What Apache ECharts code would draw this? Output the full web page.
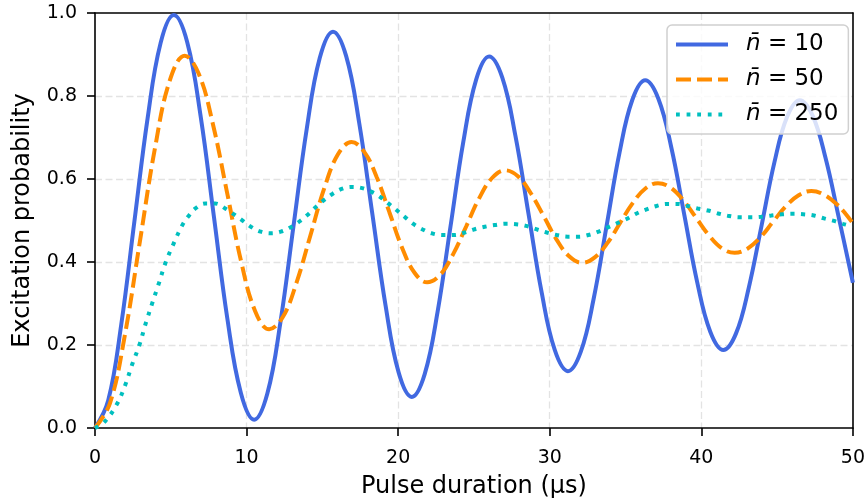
<!DOCTYPE html>
<html>
<head>
<meta charset="utf-8">
<script src="https://cdn.jsdelivr.net/npm/echarts@6/dist/echarts.min.js"></script>
<style>
  html, body { margin: 0; padding: 0; background: #ffffff; }
  #chart { width: 868px; height: 504px; }
</style>
</head>
<body>
<div id="chart"></div>
<script>
// Pulse duration (µs) and excitation probability for each mean phonon number
const blueT = [0, 0.87, 1.73, 2.6, 3.47, 4.33, 5.2, 6.08, 6.97, 7.85, 8.73, 9.62, 10.5, 11.37, 12.23, 13.1, 13.97, 14.83, 15.7, 16.57, 17.43, 18.3, 19.17, 20.03, 20.9, 21.75, 22.6, 23.45, 24.3, 25.15, 26.0, 26.87, 27.73, 28.6, 29.47, 30.33, 31.2, 32.05, 32.9, 33.75, 34.6, 35.45, 36.3, 37.16, 38.02, 38.88, 39.73, 40.59, 41.45, 42.29, 43.13, 43.98, 44.82, 45.66, 46.5, 47.35, 48.2, 49.05, 50];
const blueP = [0, 0.066, 0.249, 0.498, 0.746, 0.928, 0.995, 0.930, 0.751, 0.508, 0.264, 0.085, 0.02, 0.083, 0.254, 0.488, 0.721, 0.892, 0.955, 0.896, 0.735, 0.515, 0.295, 0.134, 0.075, 0.130, 0.280, 0.485, 0.690, 0.840, 0.895, 0.844, 0.705, 0.516, 0.326, 0.188, 0.137, 0.184, 0.312, 0.487, 0.663, 0.791, 0.838, 0.794, 0.676, 0.513, 0.351, 0.232, 0.188, 0.228, 0.338, 0.489, 0.640, 0.750, 0.790, 0.752, 0.650, 0.510, 0.350];

const orangeT = [0, 0.99, 1.97, 2.96, 3.95, 4.93, 5.92, 6.85, 7.78, 8.71, 9.63, 10.56, 11.49, 12.4, 13.3, 14.21, 15.11, 16.02, 16.92, 17.75, 18.58, 19.42, 20.25, 21.08, 21.91, 22.77, 23.63, 24.49, 25.35, 26.21, 27.07, 27.92, 28.76, 29.61, 30.45, 31.3, 32.14, 32.97, 33.81, 34.64, 35.47, 36.31, 37.14, 37.98, 38.83, 39.67, 40.51, 41.36, 42.2, 43.04, 43.89, 44.73, 45.57, 46.42, 47.26, 48.1, 48.94, 49.5, 50];
const orangeP = [0, 0.060, 0.224, 0.449, 0.673, 0.837, 0.897, 0.853, 0.732, 0.568, 0.403, 0.282, 0.238, 0.268, 0.351, 0.464, 0.576, 0.659, 0.689, 0.666, 0.605, 0.520, 0.435, 0.374, 0.351, 0.369, 0.419, 0.486, 0.554, 0.603, 0.621, 0.606, 0.565, 0.510, 0.454, 0.413, 0.398, 0.411, 0.446, 0.494, 0.542, 0.577, 0.590, 0.579, 0.548, 0.506, 0.464, 0.433, 0.422, 0.432, 0.459, 0.497, 0.534, 0.561, 0.571, 0.562, 0.539, 0.517, 0.493];

const tealT = [0, 0.63, 1.44, 2.0, 2.45, 2.93, 3.32, 3.76, 4.2, 4.64, 5.17, 5.78, 6.18, 6.62, 7.27, 7.93, 8.59, 9.12, 9.69, 10.28, 10.94, 11.6, 12.26, 12.92, 13.46, 14.01, 14.52, 15.06, 15.66, 16.27, 16.93, 17.63, 18.25, 18.84, 19.39, 19.93, 20.49, 21.03, 21.58, 22.24, 22.94, 23.67, 24.39, 25.05, 25.71, 26.37, 27.07, 27.77, 28.43, 29.1, 29.81, 30.47, 31.19, 31.9, 32.55, 33.21, 33.87, 34.53, 35.14, 35.73, 36.39, 37.05, 37.71, 38.37, 39.09, 39.75, 40.45, 41.11, 41.82, 42.54, 43.27, 43.97, 44.62, 45.33, 46.05, 46.71, 47.43, 48.09, 48.75, 49.34, 50];
const tealP = [0, 0.015, 0.057, 0.104, 0.153, 0.2, 0.249, 0.299, 0.347, 0.397, 0.443, 0.49, 0.511, 0.529, 0.541, 0.541, 0.529, 0.516, 0.501, 0.485, 0.473, 0.469, 0.473, 0.484, 0.497, 0.513, 0.531, 0.548, 0.564, 0.576, 0.581, 0.578, 0.569, 0.556, 0.540, 0.524, 0.507, 0.491, 0.479, 0.469, 0.465, 0.465, 0.471, 0.479, 0.485, 0.489, 0.492, 0.491, 0.487, 0.479, 0.471, 0.465, 0.461, 0.461, 0.465, 0.473, 0.484, 0.495, 0.505, 0.517, 0.527, 0.535, 0.540, 0.540, 0.535, 0.529, 0.524, 0.517, 0.511, 0.508, 0.508, 0.509, 0.512, 0.515, 0.516, 0.515, 0.512, 0.505, 0.499, 0.492, 0.486];

const seriesNames = ['n\u0304 = 10', 'n\u0304 = 50', 'n\u0304 = 250'];
const xTicks = [0, 10, 20, 30, 40, 50];
const yTicks = [0.0, 0.2, 0.4, 0.6, 0.8, 1.0];

const FONT = 'DejaVu Sans';
const LW = 4;

function pairs(xs, ys) {
  return xs.map((x, i) => [x, ys[i]]);
}

const chart = echarts.init(document.getElementById('chart'), null, { renderer: 'canvas' });

const gridLine = {
  show: true, showMinLine: false, showMaxLine: false,
  lineStyle: { color: '#e3e3e3', width: 1.3, type: [7, 3.5] }
};
const frameLine = { show: true, onZero: false, lineStyle: { color: '#000000', width: 1.6 } };

chart.setOption({
  animation: false,
  backgroundColor: '#ffffff',
  grid: { left: 95, top: 13, width: 760, height: 415, show: false },
  xAxis: [
    {
      type: 'value', position: 'bottom', min: xTicks[0], max: xTicks[xTicks.length - 1], interval: 10,
      name: 'Pulse duration (\u00b5s)', nameLocation: 'middle', nameGap: 47,
      nameTextStyle: { fontFamily: FONT, fontSize: 24, color: '#000000' },
      axisLine: frameLine,
      axisTick: { show: true, length: 8, lineStyle: { color: '#000000', width: 1.6 } },
      axisLabel: { fontFamily: FONT, fontSize: 19, color: '#000000', margin: 21,
        formatter: v => String(v) },
      splitLine: gridLine
    },
    {
      type: 'value', position: 'top', min: xTicks[0], max: xTicks[xTicks.length - 1],
      axisLine: frameLine, axisTick: { show: false }, axisLabel: { show: false },
      splitLine: { show: false }
    }
  ],
  yAxis: [
    {
      type: 'value', position: 'left', min: yTicks[0], max: yTicks[yTicks.length - 1], interval: 0.2,
      name: 'Excitation probability', nameLocation: 'middle', nameGap: 60, nameRotate: 90,
      nameTextStyle: { fontFamily: FONT, fontSize: 24, color: '#000000' },
      axisLine: frameLine,
      axisTick: { show: true, length: 8, lineStyle: { color: '#000000', width: 1.6 } },
      axisLabel: { fontFamily: FONT, fontSize: 19, color: '#000000', margin: 18,
        formatter: v => v.toFixed(1) },
      splitLine: gridLine
    },
    {
      type: 'value', position: 'right', min: yTicks[0], max: yTicks[yTicks.length - 1],
      axisLine: frameLine, axisTick: { show: false }, axisLabel: { show: false },
      splitLine: { show: false }
    }
  ],
  legend: {
    orient: 'vertical', left: 667, top: 25,
    padding: [6, 10, 6, 7],
    backgroundColor: 'rgba(255,255,255,0.8)',
    borderColor: '#d0d0d0', borderWidth: 1.5, borderRadius: 5,
    itemWidth: 52, itemHeight: 14, itemGap: 8,
    itemStyle: { opacity: 0 },
    lineStyle: { width: LW },
    data: seriesNames,
    formatter: name => name.replace('n\u0304', '{i|n\u0304}'),
    textStyle: {
      fontFamily: FONT, fontSize: 23, color: '#000000', lineHeight: 27,
      padding: [0, 0, 0, 13],
      rich: { i: { fontFamily: FONT, fontStyle: 'italic', fontSize: 23, color: '#000000' } }
    }
  },
  series: [
    {
      name: seriesNames[0], type: 'line', data: pairs(blueT, blueP),
      smooth: 0.4, symbol: 'none', clip: true,
      lineStyle: { color: '#4169E1', width: LW, type: 'solid' },
      itemStyle: { color: '#4169E1' }
    },
    {
      name: seriesNames[1], type: 'line', data: pairs(orangeT, orangeP),
      smooth: 0.4, symbol: 'none', clip: true,
      lineStyle: { color: '#FF8C00', width: LW, type: [15, 6], cap: 'butt' },
      itemStyle: { color: '#FF8C00' }
    },
    {
      name: seriesNames[2], type: 'line', data: pairs(tealT, tealP),
      smooth: 0.4, symbol: 'none', clip: true,
      lineStyle: { color: '#00BFBF', width: LW, type: [3.8, 6.8], cap: 'butt' },
      itemStyle: { color: '#00BFBF' }
    }
  ]
});
</script>
</body>
</html>
